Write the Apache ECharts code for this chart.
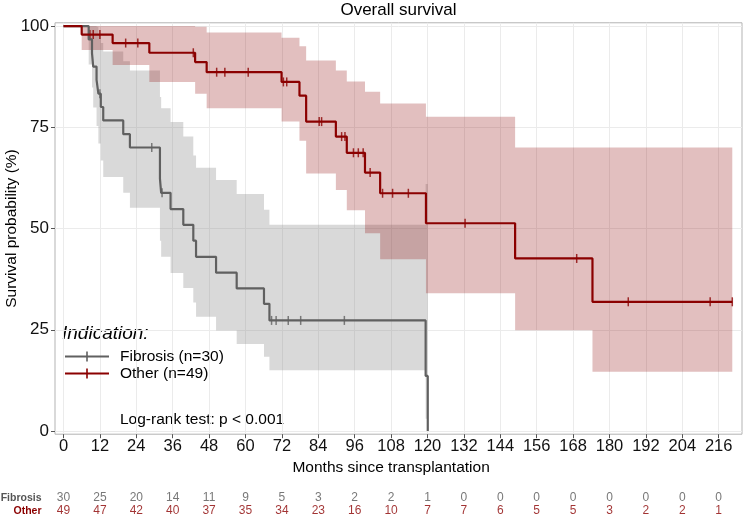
<!DOCTYPE html>
<html><head><meta charset="utf-8">
<script src="https://cdn.jsdelivr.net/npm/echarts@6/dist/echarts.min.js"></script>
<style>html,body{margin:0;padding:0;background:#fff}#c{width:748px;height:518px}</style>
</head><body><div id="c"></div>
<script>
// ---------------- data ----------------
const riskTimes = [0,12,24,36,48,60,72,84,96,108,120,132,144,156,168,180,192,204,216];
const riskFibrosis = [30,25,20,14,11,9,5,3,2,2,1,0,0,0,0,0,0,0,0];
const riskOther = [49,47,42,40,37,35,34,23,16,10,7,7,6,5,5,3,2,2,1];

// Fibrosis KM curve
const fibTime = [0,8.3,9.4,9.8,10.9,11.5,12.3,13.1,19.7,21.9,31.8,32.2,35.3,39.5,42.8,43.7,50.3,57.1,66.1,67.9,119.4,120.1];
const fibSurv = [100,96.7,93.3,90.0,86.7,83.3,80.0,76.7,73.3,70.0,62.3,58.8,54.8,50.9,47.0,43.0,39.1,35.2,31.4,27.3,13.6,0];
const fibCensTime = [12.0,29.1,32.5,68.6,70.1,74.1,78.2,92.6];
const fibCensSurv = [83.3,70.0,58.8,27.3,27.3,27.3,27.3,27.3];
// Fibrosis confidence band (value holds from time i to time i+1)
const fibBandTime = [8.3,9.4,9.8,10.9,11.5,12.3,13.1,19.7,21.9,31.8,32.2,35.3,39.5,42.8,43.7,50.3,57.1,66.1,67.9,119.4,120.1];
const fibLower = [90.5,84.8,79.9,75.3,71.0,66.8,62.7,58.8,55.1,47.0,43.0,39.0,35.3,31.7,28.2,24.8,21.5,18.3,15.0,3.0,3.0];
const fibUpper = [100,100,100,99.8,97.8,95.8,93.7,91.3,89.0,82.5,79.7,76.3,72.7,68.0,65.0,62.0,58.5,54.6,50.9,61.0,61.0];

// Other KM curve
const othTime = [0,6.0,16.2,28.3,43.4,47.2,71.9,77.8,80.0,89.8,93.4,99.4,104.4,119.5,148.9,174.4,220.5];
const othSurv = [100,97.9,95.8,93.4,91.1,88.6,86.2,82.8,76.4,72.7,68.7,63.8,58.7,51.3,42.6,31.9,31.9];
const othCensTime = [8.7,9.8,12.0,20.5,24.5,42.8,50.5,53.2,60.9,72.5,73.6,84.3,85.1,91.7,92.8,95.6,97.2,98.8,101.1,105.2,108.5,113.7,132.4,169.2,186.2,213.2,220.5];
const othCensSurv = [97.9,97.9,97.9,95.8,95.8,93.4,88.6,88.6,88.6,86.2,86.2,76.4,76.4,72.7,72.7,68.7,68.7,68.7,63.8,58.7,58.7,58.7,51.3,42.6,31.9,31.9,31.9];
// Other confidence band
const othBandTime = [6.0,16.2,28.3,43.4,47.2,71.9,77.8,80.0,89.8,93.4,99.4,104.4,119.5,148.9,174.4,220.5];
const othLower = [94.1,90.4,86.2,83.3,79.7,76.4,71.7,63.6,59.5,54.5,48.8,42.4,34.0,24.9,14.6,14.6];
const othUpper = [100,100,100,99.8,98.4,97.1,95.0,91.5,89.0,86.3,83.8,80.9,77.6,70.0,70.0,70.0];

const xTickInterval = 12;
const yTickInterval = 25;

// ---------------- chart ----------------
const FONT = '"Liberation Sans", Arial, Helvetica, sans-serif';
const FIB_COL = '#606060';
const OTH_COL = '#8b0000';

const zip = (a, b) => a.map((v, i) => [v, b[i]]);

// step-shaped ribbon polygon, built through the axis scales (api.coord)
function bandSeries(name, times, lower, upper, color) {
  return {
    type: 'custom', name: name, xAxisIndex: 0, yAxisIndex: 0, silent: true, clip: true,
    data: times.map((t, i) => [t, lower[i], upper[i]]),
    renderItem: function (params, api) {
      if (params.dataIndex !== 0) return null;
      const n = times.length;
      const top = [], bot = [];
      for (let i = 0; i < n - 1; i++) {
        top.push(api.coord([times[i], upper[i]]));
        top.push(api.coord([times[i + 1], upper[i]]));
        bot.push(api.coord([times[i], lower[i]]));
        bot.push(api.coord([times[i + 1], lower[i]]));
      }
      const pts = top.concat(bot.reverse());
      return {type: 'polygon', shape: {points: pts}, style: {fill: color, stroke: null}};
    }
  };
}

const noZero = {show: false, onZero: false};
const gridBase = {containLabel: false, outerBoundsMode: 'none'};

const chart = echarts.init(document.getElementById('c'), null, {renderer: 'canvas'});
const option = {
  animation: false,
  textStyle: {fontFamily: FONT},
  title: {
    text: 'Overall survival', left: 398.5, top: 2, textAlign: 'center', padding: 0,
    textStyle: {fontSize: 17, fontWeight: 'normal', color: '#000', fontFamily: FONT}
  },
  grid: [
    Object.assign({left: 55, top: 22.8, width: 687, height: 411.4, show: true, borderColor: '#b3b3b3', borderWidth: 1, backgroundColor: 'transparent'}, gridBase),
    Object.assign({left: 63.5, top: 22.8, width: 655.2, height: 411.4}, gridBase),
    Object.assign({left: 55, top: 26, width: 687, height: 405}, gridBase),
    Object.assign({left: 63.5, top: 491.5, width: 655.2, height: 26}, gridBase)
  ],
  xAxis: [
    {gridIndex: 0, type: 'value', min: -2.8, max: 223.7, show: false, axisLine: noZero},
    {gridIndex: 1, type: 'value', min: 0, max: 216, interval: xTickInterval, position: 'bottom',
      axisLine: noZero,
      axisTick: {show: true, length: 4, lineStyle: {color: '#555'}},
      axisLabel: {fontSize: 16.5, color: '#111', margin: 4, fontFamily: FONT},
      splitLine: {show: true, lineStyle: {color: '#ebebeb', width: 1}},
      name: 'Months since transplantation', nameLocation: 'middle', nameGap: 24,
      nameTextStyle: {fontSize: 15.5, color: '#000', fontFamily: FONT}},
    {gridIndex: 2, type: 'value', min: -2.8, max: 223.7, show: false, axisLine: noZero},
    {gridIndex: 3, type: 'value', min: 0, max: 216, show: false, axisLine: noZero}
  ],
  yAxis: [
    {gridIndex: 0, type: 'value', min: -0.8, max: 100.8, show: false, axisLine: noZero},
    {gridIndex: 1, type: 'value', min: 0, max: 100, show: false, axisLine: noZero},
    {gridIndex: 2, type: 'value', min: 0, max: 100, interval: yTickInterval, position: 'left',
      axisLine: noZero,
      axisTick: {show: true, length: 4, lineStyle: {color: '#555'}},
      axisLabel: {fontSize: 17, color: '#111', margin: 6, fontFamily: FONT},
      splitLine: {show: true, lineStyle: {color: '#ebebeb', width: 1}}},
    {gridIndex: 3, type: 'category', data: ['Other', 'Fibrosis'], position: 'left',
      axisLine: noZero, axisTick: {show: false}, splitLine: {show: false},
      axisLabel: {margin: 22, interval: 0, fontFamily: FONT,
        formatter: v => v === 'Fibrosis' ? '{f|Fibrosis}' : '{o|Other}',
        rich: {f: {color: '#555', fontWeight: 'bold', fontSize: 10.5, fontFamily: FONT},
               o: {color: OTH_COL, fontWeight: 'bold', fontSize: 10.5, fontFamily: FONT}}}}
  ],
  legend: {
    data: ['Fibrosis (n=30)', 'Other (n=49)'], orient: 'vertical', left: 65, top: 348,
    padding: 0, itemGap: 0, itemWidth: 44, itemHeight: 10, selectedMode: false,
    icon: 'path://M0,4.1H44V5.9H0Z M21.2,0H22.8V10H21.2Z',
    textStyle: {fontSize: 15.5, color: '#000', lineHeight: 17, fontFamily: FONT, padding: [0, 0, 0, 6]}
  },
  graphic: [
    {type: 'text', x: 12, y: 228.5, rotation: Math.PI / 2,
      style: {text: 'Survival probability (%)', font: '15.5px ' + FONT, fill: '#000', verticalAlign: 'middle', align: 'center'}},
    {type: 'text', x: 62, y: 334, style: {text: 'Indication:', font: 'italic 19px ' + FONT, fill: '#000', verticalAlign: 'middle', align: 'left'}},
    {type: 'text', x: 120, y: 420, style: {text: 'Log-rank test: p < 0.001', font: '15.5px ' + FONT, fill: '#000', verticalAlign: 'middle', align: 'left'}}
  ],
  series: [
    bandSeries('fibBand', fibBandTime, fibLower, fibUpper, 'rgba(128,128,128,0.3)'),
    bandSeries('othBand', othBandTime, othLower, othUpper, 'rgba(139,0,0,0.25)'),
    {type: 'line', name: 'Fibrosis (n=30)', xAxisIndex: 0, yAxisIndex: 0, step: 'end', symbol: 'none',
      itemStyle: {color: FIB_COL}, lineStyle: {color: FIB_COL, width: 2.2}, data: zip(fibTime, fibSurv)},
    {type: 'line', name: 'Other (n=49)', xAxisIndex: 0, yAxisIndex: 0, step: 'end', symbol: 'none',
      itemStyle: {color: OTH_COL}, lineStyle: {color: OTH_COL, width: 2.2}, data: zip(othTime, othSurv)},
    {type: 'scatter', name: 'fibCens', xAxisIndex: 0, yAxisIndex: 0, symbol: 'rect', symbolSize: [1.5, 9],
      itemStyle: {color: FIB_COL}, data: zip(fibCensTime, fibCensSurv)},
    {type: 'scatter', name: 'othCens', xAxisIndex: 0, yAxisIndex: 0, symbol: 'rect', symbolSize: [1.5, 9],
      itemStyle: {color: OTH_COL}, data: zip(othCensTime, othCensSurv)},
    {type: 'scatter', name: 'riskFib', xAxisIndex: 3, yAxisIndex: 3, symbolSize: 0.01,
      itemStyle: {color: 'rgba(0,0,0,0)'},
      label: {show: true, position: 'inside', formatter: p => String(p.value[2]), fontSize: 12, color: '#555', fontFamily: FONT},
      data: riskTimes.map((t, i) => [t, 'Fibrosis', riskFibrosis[i]])},
    {type: 'scatter', name: 'riskOth', xAxisIndex: 3, yAxisIndex: 3, symbolSize: 0.01,
      itemStyle: {color: 'rgba(0,0,0,0)'},
      label: {show: true, position: 'inside', formatter: p => String(p.value[2]), fontSize: 12, color: OTH_COL, fontFamily: FONT},
      data: riskTimes.map((t, i) => [t, 'Other', riskOther[i]])}
  ]
};
chart.setOption(option);
</script></body></html>
